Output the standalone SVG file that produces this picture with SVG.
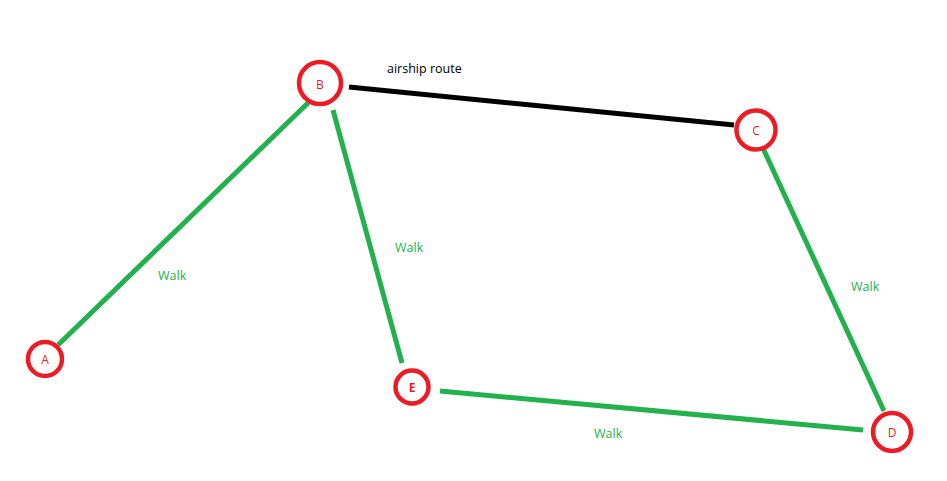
<svg xmlns="http://www.w3.org/2000/svg" width="947" height="481" viewBox="0 0 947 481">
<style>
.node circle{fill:#fff;stroke:#ed1c24;stroke-width:4.5}
.node text{fill:#ed1c24;font-family:"Open Sans","Liberation Sans",sans-serif;font-size:12px;text-anchor:middle;dominant-baseline:central}
.walk{stroke:#22b14c;stroke-width:5;stroke-linecap:butt}
.air{stroke:#000;stroke-width:5}
.lbl{font-family:"Open Sans","Liberation Sans",sans-serif;font-size:12.5px}
.wl{fill:#22b14c}
</style>
<rect width="947" height="481" fill="#fff"/>
<g id="connectors">
<line class="walk" x1="58" y1="345" x2="310" y2="101"/>
<line class="walk" x1="333" y1="110" x2="402" y2="363"/>
<line class="air" x1="349" y1="87" x2="734" y2="125"/>
<line class="walk" x1="762" y1="146" x2="884" y2="411"/>
<line class="walk" x1="440" y1="391" x2="863" y2="430"/>
<text class="lbl" x="387" y="73" font-size="13">airship route</text>
<text class="lbl wl" x="158" y="280">Walk</text>
<text class="lbl wl" x="395" y="252">Walk</text>
<text class="lbl wl" x="851" y="291">Walk</text>
<text class="lbl wl" x="594" y="438">Walk</text>
</g>
<g id="node-A" class="node"><circle cx="45" cy="359" r="17"/><text x="45" y="359">A</text></g>
<g id="node-B" class="node"><circle cx="320" cy="83" r="21"/><text x="320" y="84">B</text></g>
<g id="node-C" class="node"><circle cx="756" cy="130" r="19.5"/><text x="756" y="130">C</text></g>
<g id="node-D" class="node"><circle cx="892" cy="432" r="19"/><text x="892" y="432">D</text></g>
<g id="node-E" class="node"><circle cx="412" cy="387" r="16.5"/><text x="412" y="387" font-weight="bold">E</text></g>
</svg>
